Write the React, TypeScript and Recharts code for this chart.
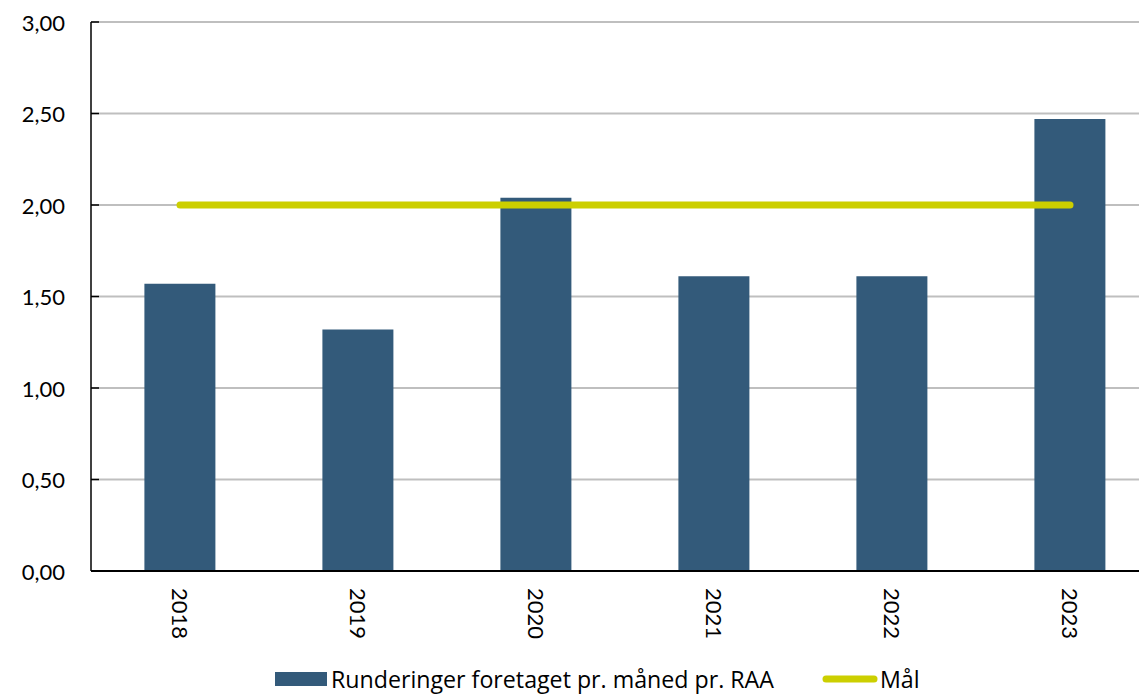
import { Bar, CartesianGrid, ComposedChart, Legend, Line, XAxis, YAxis } from 'recharts'

const years = ['2018', '2019', '2020', '2021', '2022', '2023']
const rounds = [1.57, 1.32, 2.04, 1.61, 1.61, 2.47]
const target = [2, 2, 2, 2, 2, 2]
const yTicks = [0, 0.5, 1, 1.5, 2, 2.5, 3]

const BAR_NAME = 'Runderinger foretaget pr. måned pr. RAA'
const LINE_NAME = 'Mål'
const BAR_COLOR = '#335a7a'
const LINE_COLOR = '#cccf00'
const FONT = 'Lato, "Open Sans", sans-serif'
const LEGEND_FONT = '"Open Sans", Lato, sans-serif'

const data = years.map((year, i) => ({
  year,
  rounds: rounds[i],
  target: target[i],
}))

function formatTick(value: number) {
  return value.toFixed(2).replace('.', ',')
}

function YTick({ x, y, payload }: any) {
  return (
    <g>
      <line x1={x} x2={x + 8} y1={y} y2={y} stroke="#000" strokeWidth={1.5} />
      <text
        x={x - 26}
        y={y}
        textAnchor="end"
        dominantBaseline="central"
        fontSize={22}
        fontFamily={FONT}
        fill="#000"
      >
        {formatTick(payload.value)}
      </text>
    </g>
  )
}

function XTick({ x, y, payload }: any) {
  return (
    <text
      transform={`translate(${x},${y + 17}) rotate(90)`}
      textAnchor="start"
      dominantBaseline="central"
      fontSize={22}
      fontFamily={FONT}
      fill="#000"
    >
      {payload.value}
    </text>
  )
}

function LegendContent() {
  return (
    <div
      style={{
        display: 'flex',
        alignItems: 'center',
        fontFamily: LEGEND_FONT,
        fontSize: 23.2,
        lineHeight: '24px',
        color: '#000',
        whiteSpace: 'nowrap',
      }}
    >
      <span style={{ width: 52, height: 14, background: BAR_COLOR, marginRight: 4 }} />
      <span>{BAR_NAME}</span>
      <svg width={56} height={14} style={{ marginLeft: 48, marginRight: 2 }}>
        <line x1={4} x2={52} y1={7} y2={7} stroke={LINE_COLOR} strokeWidth={7} strokeLinecap="round" />
      </svg>
      <span>{LINE_NAME}</span>
    </div>
  )
}

export default function App() {
  return (
    <div
      style={{
        position: 'absolute',
        left: 0,
        top: 0,
        width: 1139,
        height: 695,
        overflow: 'hidden',
        background: '#fff',
      }}
    >
      <ComposedChart
        width={1159}
        height={695}
        data={data}
        margin={{ top: 22, right: 0, left: 0, bottom: 0 }}
        barCategoryGap="30%"
      >
        <CartesianGrid vertical={false} stroke="#bfbfbf" strokeWidth={2} />
        <XAxis
          dataKey="year"
          height={124}
          tickLine={false}
          tickSize={0}
          tickMargin={0}
          axisLine={{ stroke: '#000', strokeWidth: 2 }}
          tick={<XTick />}
          interval={0}
        />
        <YAxis
          width={91}
          domain={[0, 3]}
          ticks={yTicks}
          tickLine={false}
          tickSize={0}
          tickMargin={0}
          axisLine={{ stroke: '#000', strokeWidth: 1.5 }}
          tick={<YTick />}
        />
        <Legend
          layout="horizontal"
          verticalAlign="middle"
          align="center"
          content={<LegendContent />}
          wrapperStyle={{ top: 667, left: 275, width: 'auto', height: 24 }}
        />
        <Bar dataKey="rounds" name={BAR_NAME} fill={BAR_COLOR} isAnimationActive={false} />
        <Line
          dataKey="target"
          name={LINE_NAME}
          stroke={LINE_COLOR}
          strokeWidth={7}
          strokeLinecap="round"
          dot={false}
          activeDot={false}
          isAnimationActive={false}
        />
      </ComposedChart>
    </div>
  )
}
